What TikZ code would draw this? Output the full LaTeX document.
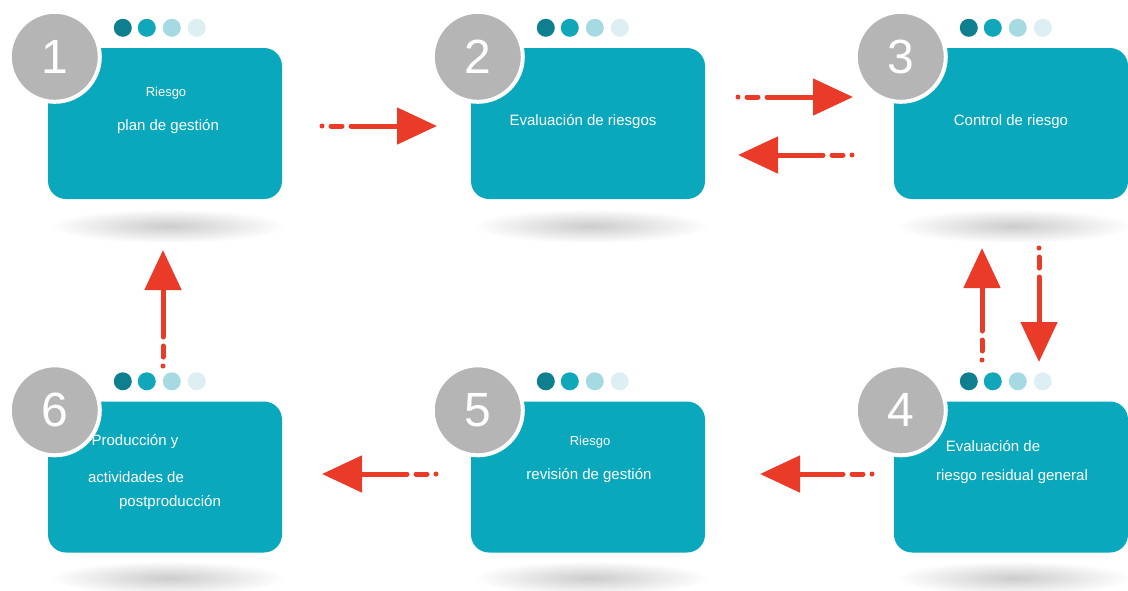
\documentclass[tikz,border=0pt]{standalone}
\usepackage{fontspec}
\setmainfont{Liberation Sans}
\usetikzlibrary{arrows.meta, positioning, calc, shapes.geometric}

\definecolor{boxteal}{HTML}{0AA8BC}
\definecolor{dotA}{HTML}{0E7F8F}
\definecolor{dotB}{HTML}{11A7BA}
\definecolor{dotC}{HTML}{A6DAE3}
\definecolor{dotD}{HTML}{DDEFF3}
\definecolor{numgray}{HTML}{B5B5B5}
\definecolor{flowred}{HTML}{EA3A28}

\begin{document}
\begin{tikzpicture}[
    x=1pt, y=-1pt,
    stagebox/.style={rectangle, rounded corners=18pt, fill=boxteal, minimum width=234pt, minimum height=151pt, inner sep=0},
    numdisk/.style={circle, fill=numgray, draw=white, line width=4pt, minimum size=90pt, inner sep=0, text=white, font=\fontsize{48}{48}\selectfont},
    dot/.style={circle, minimum size=18pt, inner sep=0},
    shadow/.style={inner color=black!20, outer color=white},
    small text/.style={text=white, font=\fontsize{13}{15}\selectfont},
    main text/.style={text=white, font=\fontsize{15}{18}\selectfont},
    flow/.style={draw=flowred, line width=5pt, line cap=round,
        dash pattern=on 0pt off 9pt on 11pt off 9pt on 400pt off 0pt,
        -{Triangle[length=40pt, width=36pt, fill=flowred]}}
]
    \useasboundingbox (0,0) rectangle (1128,590);

    % shadows under the boxes
    \foreach \name/\cx/\cy in {s1/168/226, s2/591/226, s3/1014/226, s6/168/578, s5/591/578, s4/1014/578} {
        \shade[shadow] (\cx,\cy) ellipse (118 and 17);
    }

    % stage boxes
    \node[stagebox] (b1) at (165,123.5) {};
    \node[stagebox] (b2) at (588,123.5) {};
    \node[stagebox] (b3) at (1011,123.5) {};
    \node[stagebox] (b6) at (165,477) {};
    \node[stagebox] (b5) at (588,477) {};
    \node[stagebox] (b4) at (1011,477) {};

    % numbered disks and progress dots
    \foreach \b/\n in {b1/1, b2/2, b3/3, b4/4, b5/5, b6/6} {
        \node[numdisk] (n\n) at ($(\b.north west)+(7,9)$) {\n};
        \foreach \dx/\col [count=\k] in {75/dotA, 99/dotB, 124/dotC, 149/dotD} {
            \node[dot, fill=\col] (d\n\k) at ($(\b.north west)+(\dx,-20)$) {};
        }
    }

    % texts
    \node[small text] (t1a) at (166,93) {Riesgo};
    \node[main text] (t1b) at (168,127) {plan de gestión};
    \node[main text] (t2) at (583,122) {Evaluación de riesgos};
    \node[main text] (t3) at (1011,122) {Control de riesgo};
    \node[main text] (t4a) at (993,446) {Evaluación de};
    \node[main text] (t4b) at (1012,477) {riesgo residual general};
    \node[small text] (t5a) at (590,442) {Riesgo};
    \node[main text] (t5b) at (589,476) {revisión de gestión};
    \node[main text] (t6a) at (135,442) {Producción y};
    \node[main text] (t6b) at (136,477) {actividades de};
    \node[main text] (t6c) at (170,503) {postproducción};

    % arrow ends
    \coordinate (a12s) at (322,126);  \coordinate (a12e) at (437,126);
    \coordinate (a23s) at (738,97);   \coordinate (a23e) at (853,97);
    \coordinate (a32s) at (852,155);  \coordinate (a32e) at (738,155);
    \coordinate (a34s) at (1039,248); \coordinate (a34e) at (1039,362);
    \coordinate (a43s) at (982,360);  \coordinate (a43e) at (982,248);
    \coordinate (a45s) at (872,474);  \coordinate (a45e) at (760,474);
    \coordinate (a56s) at (436,474);  \coordinate (a56e) at (322,474);
    \coordinate (a61s) at (163,366);  \coordinate (a61e) at (163,250);

    % flow arrows
    \draw[flow] (a12s) -- (a12e);
    \draw[flow] (a23s) -- (a23e);
    \draw[flow] (a32s) -- (a32e);
    \draw[flow] (a34s) -- (a34e);
    \draw[flow] (a43s) -- (a43e);
    \draw[flow] (a45s) -- (a45e);
    \draw[flow] (a56s) -- (a56e);
    \draw[flow] (a61s) -- (a61e);

\end{tikzpicture}
\end{document}
